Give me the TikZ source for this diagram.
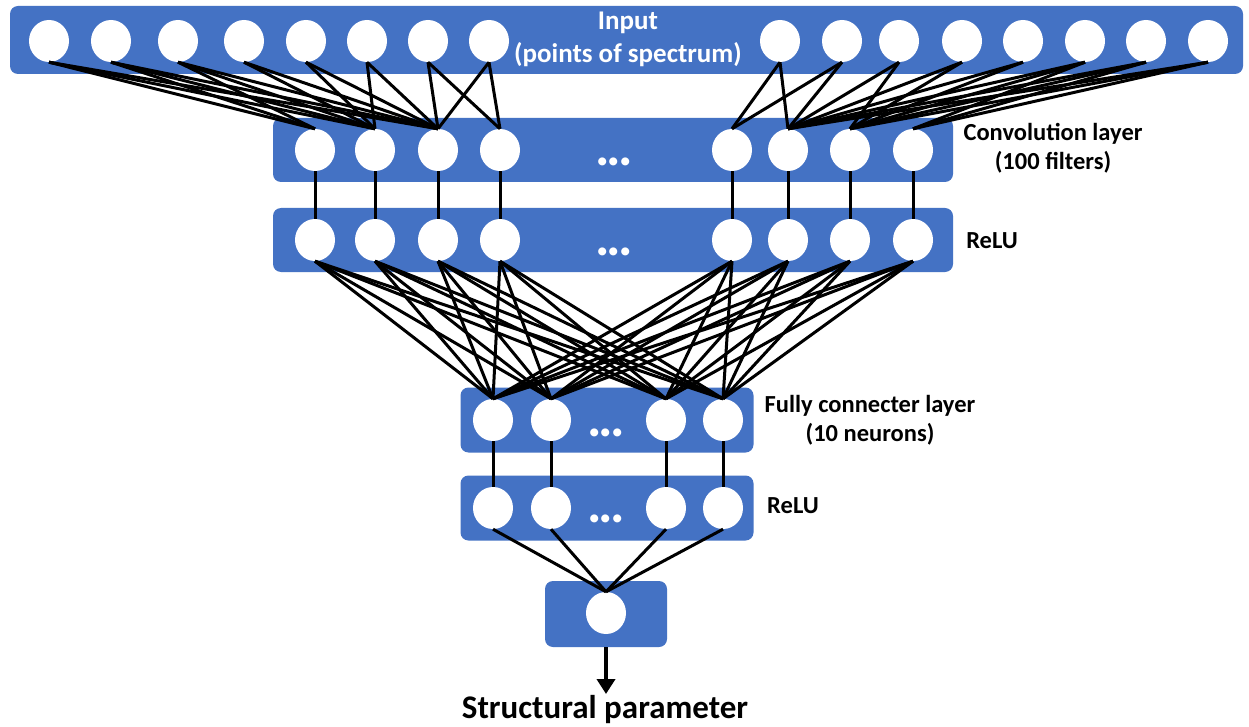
\documentclass[tikz,border=0pt]{standalone}
\usepackage{fontspec}
\setmainfont{Carlito}
\usetikzlibrary{arrows.meta,shapes.geometric}
\definecolor{nnblue}{HTML}{4472C4}
\newcommand{\bigdots}{.\kern-3pt.\kern-3pt.}
\begin{document}
\begin{tikzpicture}[x=1pt,y=-1pt,
  layerbox/.style={rectangle, fill=nnblue, rounded corners=8pt, draw=none, inner sep=0},
  neuron/.style={ellipse, fill=white, draw=none, minimum width=40pt, minimum height=42pt, inner sep=0},
  link/.style={line width=3pt, black},
  lbl/.style={font=\bfseries\fontsize{24.5}{29}\selectfont, align=center, inner sep=0},
  dotsl/.style={font=\bfseries\fontsize{54}{54}\selectfont, text=white, inner sep=0}]
\useasboundingbox (0,0) rectangle (1249,727);
\fill[white] (0,0) rectangle (1249,727);
% layer boxes
\node[layerbox, minimum width=1233pt, minimum height=68pt] (inbox) at (626.5,40) {};
\node[layerbox, minimum width=680pt, minimum height=64pt] (cbox) at (613,150) {};
\node[layerbox, minimum width=680pt, minimum height=64pt] (rbox) at (613,240) {};
\node[layerbox, minimum width=293pt, minimum height=65pt] (fbox) at (607,420) {};
\node[layerbox, minimum width=293pt, minimum height=65pt] (gbox) at (607,508) {};
\node[layerbox, minimum width=122pt, minimum height=66pt] (obox) at (606,614) {};
% neurons
\foreach \x [count=\i] in {49,111,178,244,306,367,428,489,780,842,899,962,1023,1085,1146,1208}
  \node[neuron] (i\i) at (\x,41) {};
\foreach \x [count=\i] in {315,375,438,500,732,788,850,913} {
  \node[neuron] (c\i) at (\x,150) {};
  \node[neuron] (r\i) at (\x,240) {};
}
\foreach \x [count=\i] in {493,551,666,723} {
  \node[neuron] (f\i) at (\x,420) {};
  \node[neuron] (g\i) at (\x,508) {};
}
\node[neuron] (o) at (606,613) {};
% dots
\node[dotsl] (cdots) at (614,162) {\bigdots};
\node[dotsl] (rdots) at (614,252) {\bigdots};
\node[dotsl] (fdots) at (606,433) {\bigdots};
\node[dotsl] (gdots) at (606,519) {\bigdots};
% input -> convolution
\foreach \a/\b in {1/1,1/2,1/3,2/1,2/2,2/3,3/1,3/2,3/3,4/2,4/3,5/2,5/3,6/2,6/3,7/3,7/4,8/3,8/4,
  9/5,9/6,10/5,10/6,11/6,11/7,12/6,12/7,13/6,13/7,14/6,14/7,14/8,15/6,15/7,15/8,16/6,16/7,16/8}
  \draw[link] (i\a.south) -- (c\b.north);
% convolution -> relu
\foreach \a in {1,...,8}
  \draw[link] (c\a.south) -- (r\a.north);
% relu -> fully connected
\foreach \a in {1,...,8}
  \foreach \b in {1,...,4}
    \draw[link] (r\a.south) -- (f\b.north);
% fully connected -> relu
\foreach \a in {1,...,4}
  \draw[link] (f\a.south) -- (g\a.north);
% relu -> output
\foreach \a in {1,...,4}
  \draw[link] (g\a.south) -- (o.north);
% output arrow
\coordinate (tip) at (606,694);
\draw[line width=4.5pt, -{Triangle[width=18pt,length=15pt]}] (obox.south) -- (tip);
% labels
\node[lbl, text=white, font=\bfseries\fontsize{27}{33}\selectfont] (inlbl) at (628,39) {Input\\(points of spectrum)};
\node[lbl] (clbl) at (1053,148) {Convolution layer\\(100 filters)};
\node[lbl] (rlbl) at (992,241) {ReLU};
\node[lbl] (flbl) at (870,420) {Fully connecter layer\\(10 neurons)};
\node[lbl] (glbl) at (793,506) {ReLU};
\node[font=\bfseries\fontsize{33}{38}\selectfont, inner sep=0] (outlbl) at (605,710) {Structural parameter};
\end{tikzpicture}
\end{document}
